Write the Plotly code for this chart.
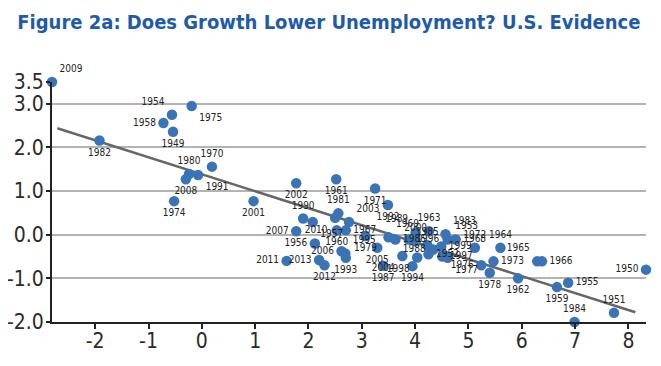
import plotly.graph_objects as go

# ---- data (GDP growth %, change in unemployment rate, pp) ----
years = [1949, 1950, 1951, 1952, 1953, 1954, 1955, 1956, 1957, 1958,
         1959, 1960, 1961, 1962, 1963, 1964, 1965, 1966, 1967, 1968,
         1969, 1970, 1971, 1972, 1973, 1974, 1975, 1976, 1977, 1978,
         1979, 1980, 1981, 1982, 1983, 1984, 1985, 1986, 1987, 1988,
         1989, 1990, 1991, 1992, 1993, 1994, 1995, 1996, 1997, 1998,
         1999, 2000, 2001, 2002, 2003, 2004, 2005, 2006, 2007, 2008,
         2009, 2010, 2011, 2012, 2013]
growth = [-0.54, 8.33, 7.73, 4.25, 4.61, -0.56, 6.87, 2.12, 2.08, -0.72,
          6.66, 2.53, 2.52, 5.93, 4.26, 5.60, 6.29, 6.38, 2.70, 4.76,
          3.50, 0.19, 3.25, 5.12, 5.47, -0.52, -0.19, 5.24, 4.61, 5.40,
          3.07, -0.24, 2.56, -1.92, 4.57, 6.99, 4.23, 3.63, 3.40, 4.34,
          4.01, 1.90, -0.07, 3.49, 2.70, 3.95, 2.69, 3.88, 4.51, 4.04,
          4.49, 4.01, 0.97, 1.77, 2.76, 3.76, 3.29, 2.62, 1.77, -0.30,
          -2.81, 2.50, 1.59, 2.30, 2.20]
unemp_change = [2.36, -0.80, -1.79, -0.45, -0.11, 2.75, -1.10, -0.20, 0.29, 2.56,
                -1.20, 0.10, 1.27, -1.00, 0.08, -0.30, -0.61, -0.61, 0.10, -0.11,
                -0.06, 1.56, 1.06, -0.30, -0.61, 0.77, 2.95, -0.70, -0.53, -0.87,
                -0.03, 1.39, 0.49, 2.16, 0.01, -2.00, -0.24, -0.11, -0.71, -0.34,
                0.05, 0.37, 1.37, 0.68, -0.53, -0.72, -0.43, -0.11, -0.50, -0.52,
                -0.27, -0.15, 0.77, 1.18, 0.29, -0.49, -0.30, -0.38, 0.08, 1.27,
                3.50, 0.39, -0.60, -0.70, -0.58]

# fitted line
fit_slope = -0.389
fit_intercept = 1.385
fit_x = [-2.71, 8.13]

y_ticks = [3.5, 3.0, 2.0, 1.0, 0.0, -1.0, -2.0]
x_ticks = [-2, -1, 0, 1, 2, 3, 4, 5, 6, 7, 8]

# ---- label placement (style) ----
label_pos = {
    1949: "bottom center", 1950: "middle left", 1951: "top center", 1952: "middle right",
    1953: "top right", 1954: "top left", 1955: "middle right", 1956: "middle left",
    1957: "bottom right", 1958: "middle left", 1959: "bottom center", 1960: "bottom center",
    1961: "bottom center", 1962: "bottom center", 1963: "top center", 1964: "top center",
    1965: "top left", 1966: "middle right", 1967: "middle right", 1968: "middle right",
    1969: "top right", 1970: "top center", 1971: "bottom center", 1972: "top center",
    1973: "middle right", 1974: "bottom center", 1975: "bottom right", 1976: "middle left",
    1977: "bottom right", 1978: "bottom center", 1979: "bottom center", 1980: "top center",
    1981: "top center", 1982: "bottom center", 1983: "top right", 1984: "top center",
    1985: "top center", 1986: "middle right", 1987: "bottom center", 1988: "middle left",
    1989: "top left", 1990: "top center", 1991: "bottom right", 1992: "bottom center",
    1993: "bottom center", 1994: "bottom center", 1995: "top right", 1996: "middle right",
    1997: "middle right", 1998: "bottom left", 1999: "middle right", 2000: "top center",
    2001: "bottom center", 2002: "bottom center", 2003: "top right", 2004: "bottom left",
    2005: "bottom center", 2006: "middle left", 2007: "middle left", 2008: "bottom center",
    2009: "top right", 2010: "bottom left", 2011: "middle left", 2012: "bottom center",
    2013: "middle left",
}

FONT = "DejaVu Sans Condensed, Liberation Sans Narrow, Liberation Sans, Arial, sans-serif"

fig = go.Figure()
fig.add_trace(go.Scatter(
    x=fit_x, y=[fit_intercept + fit_slope * v for v in fit_x],
    mode="lines", line=dict(color="#666666", width=2.5),
    hoverinfo="skip", showlegend=False,
))
fig.add_trace(go.Scatter(
    x=growth, y=unemp_change, mode="markers+text",
    text=[str(y) for y in years],
    textposition=[label_pos[y] for y in years],
    textfont=dict(family=FONT, size=10, color="#222222"),
    marker=dict(color="#3b74b6", size=10.5),
    cliponaxis=False, showlegend=False,
))

fig.update_layout(
    width=661, height=366,
    margin=dict(l=44, r=23, t=74, b=52),
    paper_bgcolor="white", plot_bgcolor="white",
    title=dict(
        text="<b>Figure 2a: Does Growth Lower Unemployment? U.S. Evidence</b>",
        x=0.014, xanchor="left", y=0.962, yanchor="middle",
        font=dict(family=FONT, size=20, color="#1f5ba8"),
    ),
    xaxis=dict(
        range=[-2.81, 8.33], tickvals=x_ticks, ticktext=[str(v) for v in x_ticks],
        showgrid=False, zeroline=False, showline=True, linecolor="#222222", linewidth=2,
        ticks="outside", ticklen=5, tickwidth=1.5, tickcolor="#222222",
        tickfont=dict(family=FONT, size=21, color="#2a2a2a"), automargin=False,
        ticklabelstandoff=-6,
    ),
    yaxis=dict(
        range=[-2.0, 3.5], tickvals=y_ticks, ticktext=[f"{v:.1f}" for v in y_ticks],
        showgrid=True, gridcolor="#b3b3b3", gridwidth=1.5, zeroline=False,
        showline=True, linecolor="#222222", linewidth=2,
        ticks="outside", ticklen=4, tickwidth=1.5, tickcolor="#222222",
        tickfont=dict(family=FONT, size=21, color="#2a2a2a"), automargin=False,
        ticklabelstandoff=-2,
    ),
)

fig.write_html("out.html")
